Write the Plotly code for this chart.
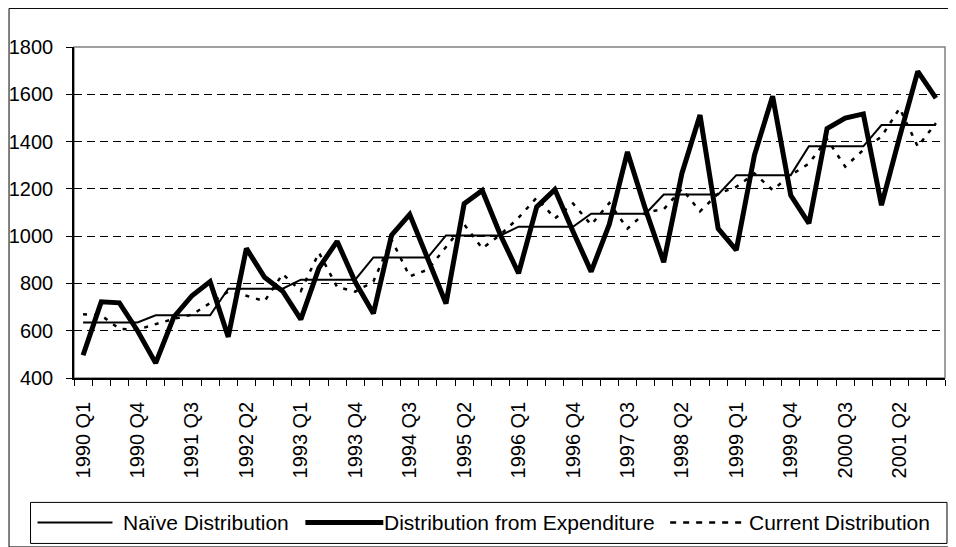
import plotly.graph_objects as go

quarters = [f"{y} Q{q}" for y in range(1990, 2002) for q in range(1, 5)]
tick_labels = ["1990 Q1", "1990 Q4", "1991 Q3", "1992 Q2", "1993 Q1", "1993 Q4",
               "1994 Q3", "1995 Q2", "1996 Q1", "1996 Q4", "1997 Q3", "1998 Q2",
               "1999 Q1", "1999 Q4", "2000 Q3", "2001 Q2"]

naive = [635, 635, 635, 635, 665, 665, 665, 665, 778, 778, 778, 778,
         816, 816, 816, 816, 910, 910, 910, 910, 1003, 1003, 1003, 1003,
         1040, 1040, 1040, 1040, 1095, 1095, 1095, 1095, 1176, 1176, 1176, 1176,
         1258, 1258, 1258, 1258, 1380, 1380, 1380, 1380, 1470, 1470, 1470, 1470]

expenditure = [496, 722, 718, 600, 463, 658, 748, 808, 574, 948, 826, 767,
               648, 866, 978, 806, 673, 1004, 1092, 899, 715, 1137, 1193, 1005,
               843, 1124, 1197, 1020, 850, 1050, 1356, 1112, 890, 1265, 1512, 1032,
               941, 1343, 1592, 1173, 1054, 1455, 1499, 1517, 1131, 1420, 1697, 1584]

current = [670, 665, 608, 604, 628, 650, 668, 718, 765, 748, 725, 840,
           768, 930, 785, 765, 808, 985, 830, 858, 955, 1050, 948, 1006,
           1078, 1163, 1075, 1138, 1048, 1140, 1032, 1100, 1114, 1200, 1105, 1180,
           1208, 1265, 1195, 1258, 1307, 1410, 1294, 1365, 1421, 1541, 1379, 1478]

series_names = ["Naïve Distribution", "Distribution from Expenditure", "Current Distribution"]

FONT = "Arial, Liberation Sans, sans-serif"
FS_TICK = 20
FS_LEG = 21
OFF = 8  # page body margin
W, H = 948, 539
ML, MR, MT, MB = 65.5, 11, 39, 169.3
PW = W - ML - MR
PH = H - MT - MB


def px(x):
    """page x -> paper x"""
    return (x - OFF - ML) / PW


def py(y):
    """page y -> paper y"""
    return (H - MB - (y - OFF)) / PH


xs = list(range(len(quarters)))
tickvals = [quarters.index(t) for t in tick_labels]

fig = go.Figure()
fig.add_trace(go.Scatter(x=xs, y=naive, mode="lines", name=series_names[0],
                         line=dict(color="black", width=2)))
fig.add_trace(go.Scatter(x=xs, y=expenditure, mode="lines", name=series_names[1],
                         line=dict(color="black", width=5)))
fig.add_trace(go.Scatter(x=xs, y=current, mode="lines", name=series_names[2],
                         line=dict(color="black", width=2.5, dash="4px,7px")))

shapes = []
# outer chart border (figure edge)
shapes.append(dict(type="rect", xref="paper", yref="paper",
                   x0=px(8.5), x1=px(955.5), y0=py(546.5), y1=py(8.5),
                   line=dict(color="black", width=1), layer="below"))
# plot frame
shapes.append(dict(type="rect", xref="paper", yref="paper",
                   x0=0, x1=1, y0=0, y1=1,
                   line=dict(color="#808080", width=1.5), layer="below"))
# legend box
shapes.append(dict(type="rect", xref="paper", yref="paper",
                   x0=px(30), x1=px(947), y0=py(543), y1=py(502),
                   line=dict(color="black", width=1)))
leg_y = py(522)
legend_items = [
    (37, 112, 123, dict(color="black", width=2)),
    (305, 383, 384, dict(color="black", width=5)),
    (670, 743, 749, dict(color="black", width=2.5, dash="6px,7px")),
]
annotations = []
for (lx0, lx1, tx, lstyle), name in zip(legend_items, series_names):
    shapes.append(dict(type="line", xref="paper", yref="paper",
                       x0=px(lx0), x1=px(lx1), y0=leg_y, y1=leg_y, line=lstyle))
    annotations.append(dict(xref="paper", yref="paper", x=px(tx), y=leg_y,
                            text=name, showarrow=False, xanchor="left", yanchor="middle",
                            borderpad=0, borderwidth=0,
                            font=dict(family=FONT, size=FS_LEG, color="black")))

fig.update_layout(
    width=W, height=H,
    margin=dict(l=ML, r=MR, t=MT, b=MB, pad=0, autoexpand=False),
    paper_bgcolor="white", plot_bgcolor="white",
    showlegend=False,
    font=dict(family=FONT, size=FS_TICK, color="black"),
    shapes=shapes, annotations=annotations,
)
fig.update_xaxes(
    automargin=False,
    range=[-0.5, len(quarters) - 0.5],
    tickmode="array", tickvals=tickvals, ticktext=tick_labels,
    tickangle=-90, ticks="outside", ticklen=6, tickcolor="rgba(0,0,0,0)",
    ticklabelstandoff=8,
    minor=dict(tickmode="linear", tick0=-0.5, dtick=1, ticks="outside",
               ticklen=6, tickcolor="black", showgrid=False),
    showgrid=False, zeroline=False,
    showline=True, linecolor="black", linewidth=1.5,
    tickfont=dict(family=FONT, size=FS_TICK, color="black"),
)
fig.update_yaxes(
    automargin=False,
    range=[400, 1800], tickmode="linear", tick0=400, dtick=200,
    ticks="outside", ticklen=6, tickcolor="black",
    showgrid=True, gridcolor="black", gridwidth=1, griddash="8px,5px",
    zeroline=False, showline=True, linecolor="black", linewidth=1.5,
    ticklabelstandoff=9,
    tickfont=dict(family=FONT, size=FS_TICK, color="black"),
)

fig.write_html("out.html")
